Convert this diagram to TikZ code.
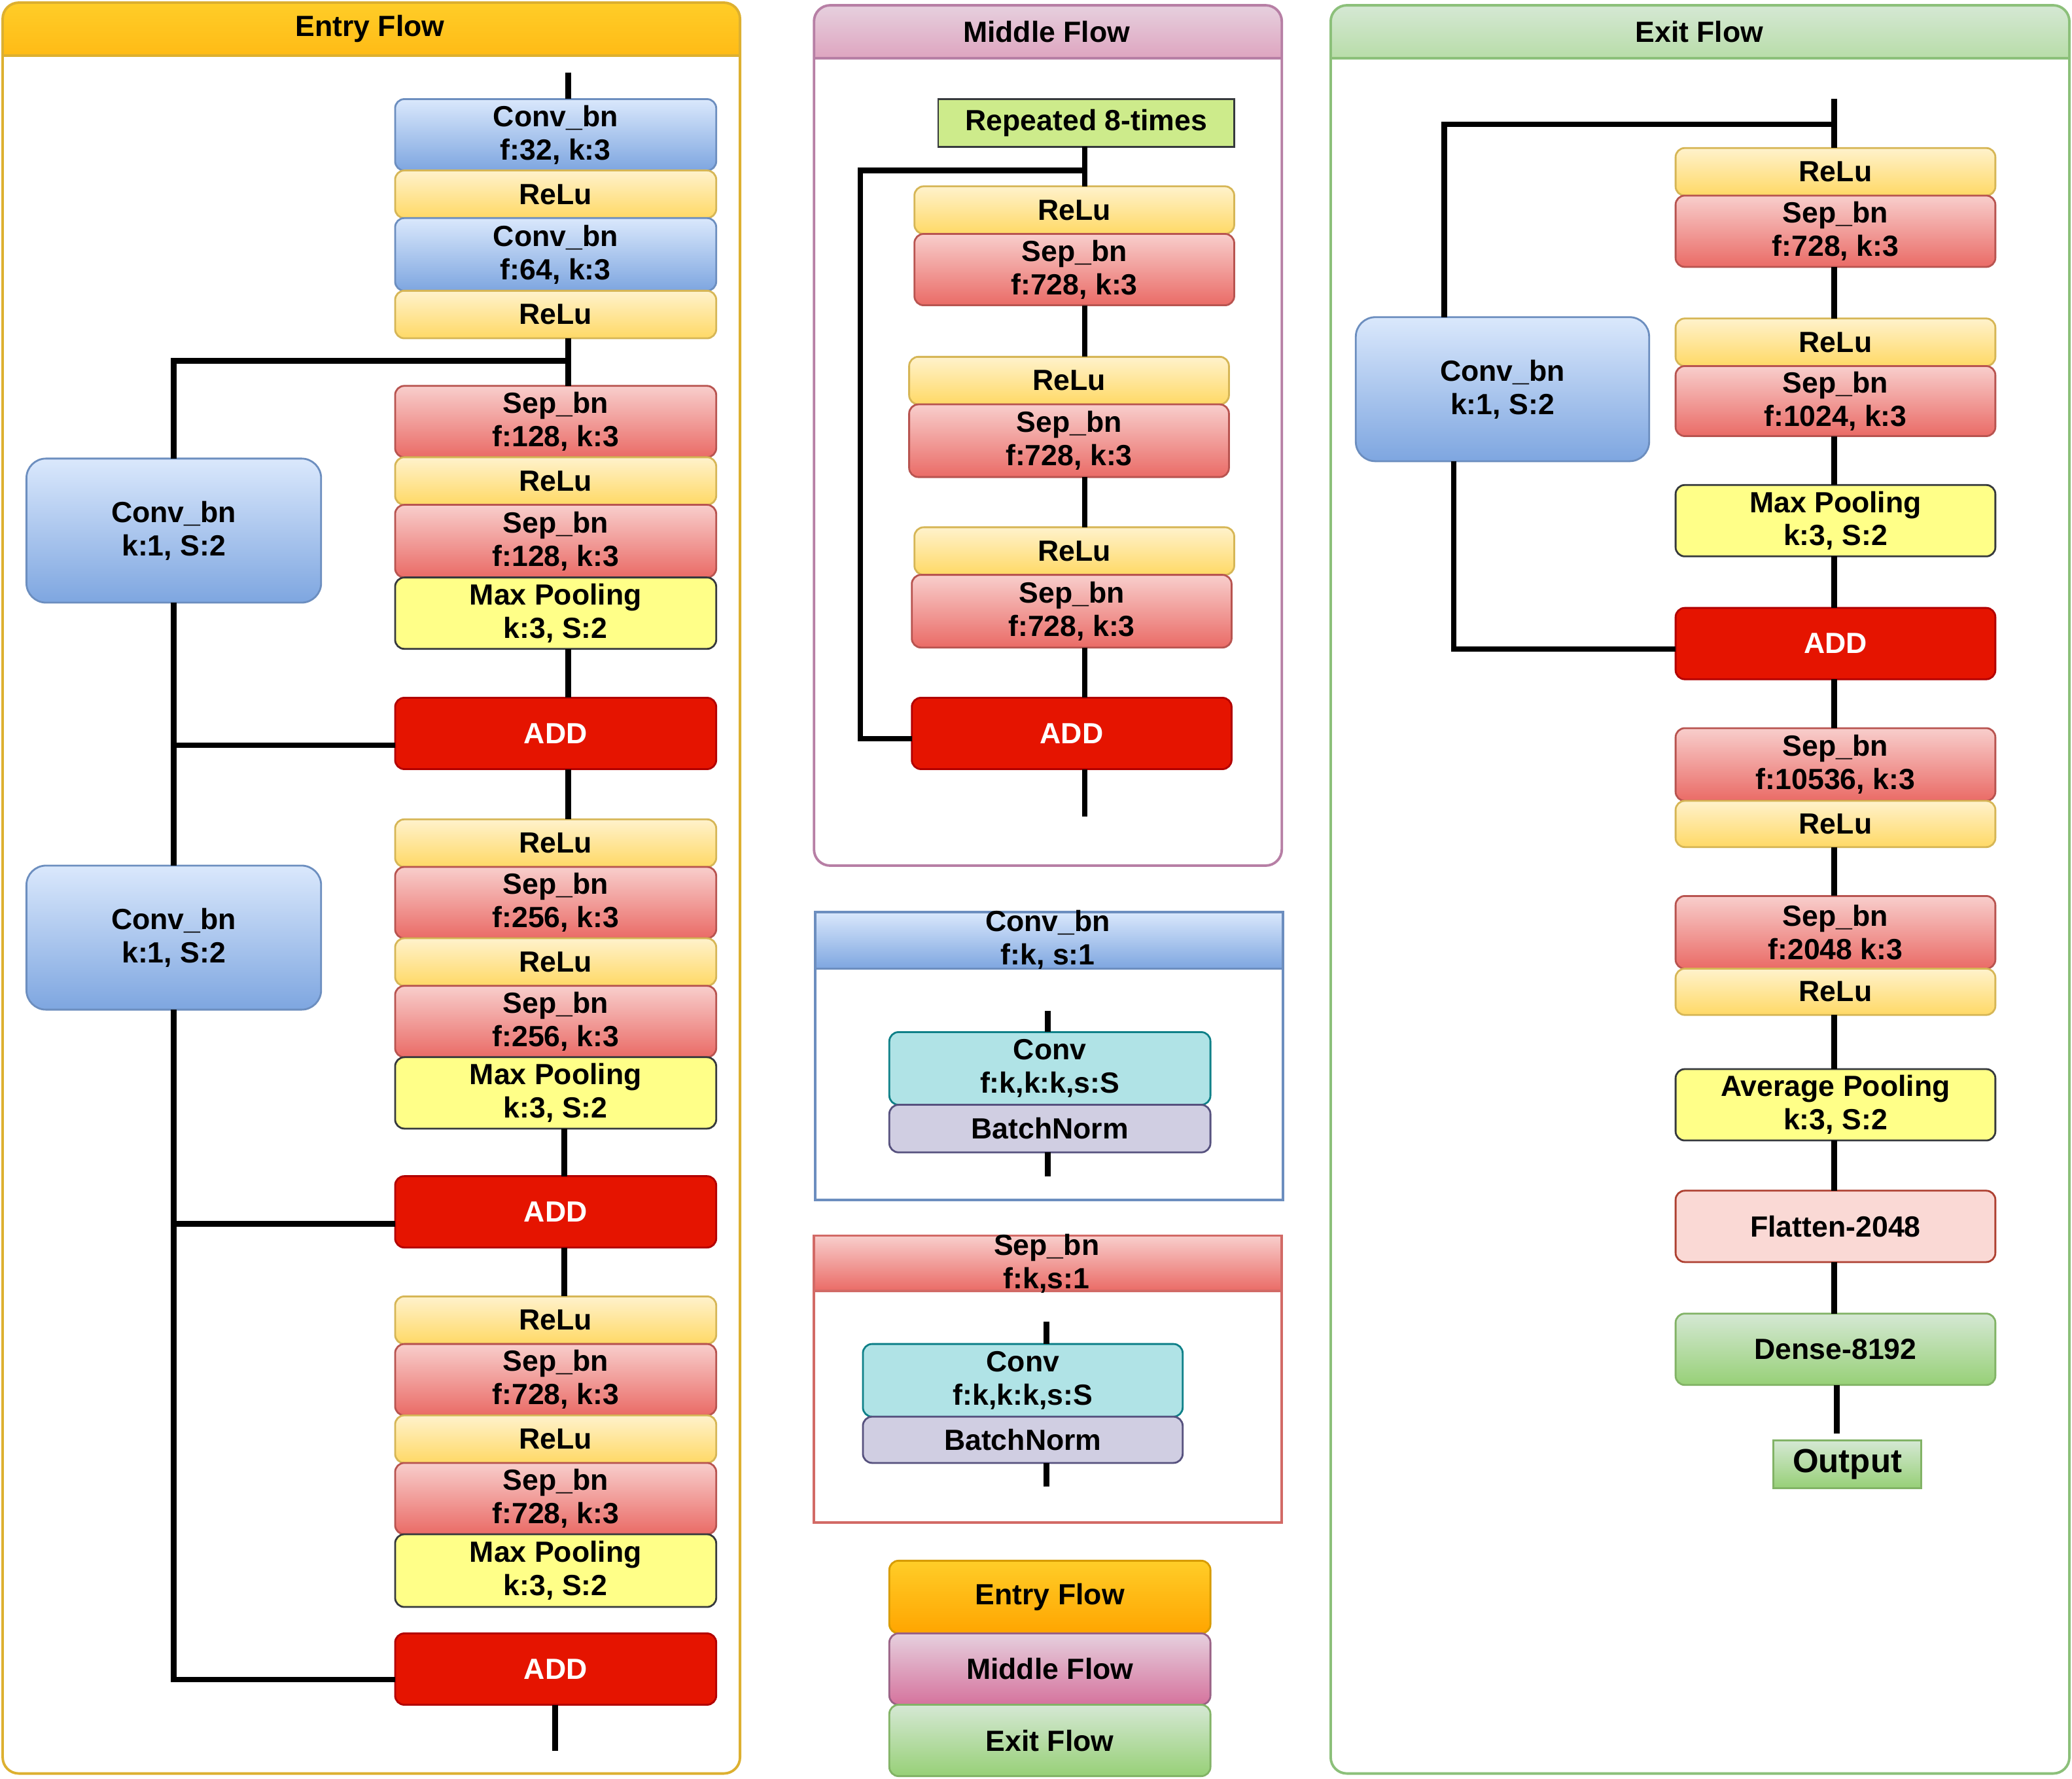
\documentclass[tikz,border=0pt]{standalone}
\usepackage{fontspec}
\setmainfont{Liberation Sans}
\usetikzlibrary{calc}
\definecolor{cBlueT}{HTML}{DAE8FC}\definecolor{cBlueB}{HTML}{7EA6E0}\definecolor{cBlueS}{HTML}{6C8EBF}
\definecolor{cYelT}{HTML}{FFF2CC}\definecolor{cYelB}{HTML}{FFD966}\definecolor{cYelS}{HTML}{D6B656}
\definecolor{cRedT}{HTML}{F8CECC}\definecolor{cRedB}{HTML}{EA6B66}\definecolor{cRedS}{HTML}{B85450}
\definecolor{cPool}{HTML}{FFFF88}\definecolor{cPoolS}{HTML}{36393D}
\definecolor{cAdd}{HTML}{E51400}\definecolor{cAddS}{HTML}{B20000}
\definecolor{cCyan}{HTML}{B0E3E6}\definecolor{cCyanS}{HTML}{0E8088}
\definecolor{cLav}{HTML}{D0CEE2}\definecolor{cLavS}{HTML}{56517E}
\definecolor{cFlat}{HTML}{FAD9D5}\definecolor{cFlatS}{HTML}{AE4132}
\definecolor{cRep}{HTML}{CDEB8B}
\definecolor{cGrT}{HTML}{D5E8D4}\definecolor{cGrB}{HTML}{97D077}\definecolor{cGrS}{HTML}{82B366}
\definecolor{cOrT}{HTML}{FFCD28}\definecolor{cOrB}{HTML}{FFA500}\definecolor{cOrS}{HTML}{D79B00}
\definecolor{cPkT}{HTML}{E6D0DE}\definecolor{cPkB}{HTML}{D5739D}\definecolor{cPkS}{HTML}{996185}
\definecolor{cEntryP}{HTML}{DDB030}\definecolor{cMidP}{HTML}{B77FA5}\definecolor{cExitP}{HTML}{8CC07A}
\definecolor{cSepP}{HTML}{D26A66}
\newcommand\fnt{\fontsize{12.7}{14.5}\selectfont\bfseries}
\newcommand\mybox[7]{\node[#2,minimum width={(#5-#3)*0.020198cm},minimum height={(#6-#4)*0.020198cm}] (#1) at ({(#3+#5)/2},{(#4+#6)/2}) {#7};}
\begin{document}
\begin{tikzpicture}[x=0.020198cm,y=-0.020198cm,
  base/.style={rectangle,rounded corners=4pt,inner sep=0pt,outer sep=0pt,align=center,font=\fnt,line width=0.8pt,text=black},
  convst/.style={base,draw=cBlueS,top color=cBlueT,bottom color=cBlueB},
  bigconv/.style={convst,rounded corners=8.5pt},
  relust/.style={base,draw=cYelS,top color=cYelT,bottom color=cYelB},
  sepst/.style={base,draw=cRedS,top color=cRedT,bottom color=cRedB},
  poolst/.style={base,draw=cPoolS,fill=cPool},
  addst/.style={base,draw=cAddS,fill=cAdd,text=white},
  cyanst/.style={base,draw=cCyanS,fill=cCyan},
  lavst/.style={base,draw=cLavS,fill=cLav},
  flatst/.style={base,draw=cFlatS,fill=cFlat},
  repst/.style={base,rounded corners=0pt,draw=cPoolS,fill=cRep},
  greenst/.style={base,draw=cGrS,top color=cGrT,bottom color=cGrB},
  outst/.style={greenst,rounded corners=0pt,font=\fontsize{14.5}{16}\selectfont\bfseries},
  orangest/.style={base,draw=cOrS,top color=cOrT,bottom color=cOrB},
  pinkst/.style={base,draw=cPkS,top color=cPkT,bottom color=cPkB},
  hdr/.style={inner sep=0pt,align=center,font=\fnt,text=black},
  conn/.style={line width=2.4pt,draw=black},
  panel/.style={line width=1.1pt,rounded corners=7pt}]
\useasboundingbox (0,0) rectangle (1568,1346);
\fill[white] (0,0) rectangle (1568,1346);

% ---------- panels ----------
\begin{scope}\clip (2,2) rectangle (560,42);
\shade[top color=cOrT,bottom color=cOrB,rounded corners=7pt] (2,2) rectangle (560,90);\end{scope}
\draw[panel,draw=cEntryP] (2,2) rectangle (560,1342);
\draw[line width=1.1pt,draw=cEntryP] (2,42) -- (560,42);
\node[hdr] (hEntry) at (280,22) {Entry Flow};

\begin{scope}\clip (616,4) rectangle (970,44);
\shade[top color=cPkT,bottom color=cPkB,rounded corners=7pt] (616,4) rectangle (970,90);\end{scope}
\draw[panel,draw=cMidP] (616,4) rectangle (970,655);
\draw[line width=1.1pt,draw=cMidP] (616,44) -- (970,44);
\node[hdr] (hMid) at (792,24) {Middle Flow};

\begin{scope}\clip (1007,4) rectangle (1566,44);
\shade[top color=cGrT,bottom color=cGrB,rounded corners=7pt] (1007,4) rectangle (1566,90);\end{scope}
\draw[panel,draw=cExitP] (1007,4) rectangle (1566,1342);
\draw[line width=1.1pt,draw=cExitP] (1007,44) -- (1566,44);
\node[hdr] (hExit) at (1286,24) {Exit Flow};

% legend panels
\shade[top color=cBlueT,bottom color=cBlueB] (617,690) rectangle (971,733);
\draw[line width=1.1pt,draw=cBlueS] (617,690) rectangle (971,908);
\draw[line width=1.1pt,draw=cBlueS] (617,733) -- (971,733);
\node[hdr] (hConv) at (793,711) {Conv\_bn\\f:k, s:1};

\shade[top color=cRedT,bottom color=cRedB] (616,935) rectangle (970,977);
\draw[line width=1.1pt,draw=cSepP] (616,935) rectangle (970,1152);
\draw[line width=1.1pt,draw=cSepP] (616,977) -- (970,977);
\node[hdr] (hSep) at (792,956) {Sep\_bn\\f:k,s:1};

% ---------- Entry flow ----------
\mybox{e1}{convst}{299}{75}{542}{129}{Conv\_bn\\f:32, k:3}
\mybox{e2}{relust}{299}{129}{542}{165}{ReLu}
\mybox{e3}{convst}{299}{165}{542}{220}{Conv\_bn\\f:64, k:3}
\mybox{e4}{relust}{299}{220}{542}{256}{ReLu}
\mybox{e5}{sepst}{299}{292}{542}{346}{Sep\_bn\\f:128, k:3}
\mybox{e6}{relust}{299}{346}{542}{382}{ReLu}
\mybox{e7}{sepst}{299}{382}{542}{437}{Sep\_bn\\f:128, k:3}
\mybox{e8}{poolst}{299}{437}{542}{491}{Max Pooling\\k:3, S:2}
\mybox{e9}{addst}{299}{528}{542}{582}{ADD}
\mybox{e10}{relust}{299}{620}{542}{656}{ReLu}
\mybox{e11}{sepst}{299}{656}{542}{710}{Sep\_bn\\f:256, k:3}
\mybox{e12}{relust}{299}{710}{542}{746}{ReLu}
\mybox{e13}{sepst}{299}{746}{542}{800}{Sep\_bn\\f:256, k:3}
\mybox{e14}{poolst}{299}{800}{542}{854}{Max Pooling\\k:3, S:2}
\mybox{e15}{addst}{299}{890}{542}{944}{ADD}
\mybox{e16}{relust}{299}{981}{542}{1017}{ReLu}
\mybox{e17}{sepst}{299}{1017}{542}{1071}{Sep\_bn\\f:728, k:3}
\mybox{e18}{relust}{299}{1071}{542}{1107}{ReLu}
\mybox{e19}{sepst}{299}{1107}{542}{1161}{Sep\_bn\\f:728, k:3}
\mybox{e20}{poolst}{299}{1161}{542}{1216}{Max Pooling\\k:3, S:2}
\mybox{e21}{addst}{299}{1236}{542}{1290}{ADD}
\mybox{ec1}{bigconv}{20}{347}{243}{456}{Conv\_bn\\k:1, S:2}
\mybox{ec2}{bigconv}{20}{655}{243}{764}{Conv\_bn\\k:1, S:2}

\coordinate (et) at (430,55);
\coordinate (ej) at (430,273);
\coordinate (xl) at (427,0);
\coordinate (eb) at (420,1325);
\draw[conn] (et) -- (et |- e1.north);
\draw[conn] (e4.south -| et) -- (e5.north -| et);
\draw[conn] (ec1.north) |- (ej);
\draw[conn] (e8.south -| et) -- (e9.north -| et);
\draw[conn] (e9.south -| et) -- (e10.north -| et);
\draw[conn] (e14.south -| xl) -- (e15.north -| xl);
\draw[conn] (e15.south -| xl) -- (e16.north -| xl);
\draw[conn] (e21.south -| eb) -- (eb);
\draw[conn] (ec1.south) -- (ec2.north);
\draw[conn] (ec1.south) |- ($(e9.west)+(0,9)$);
\draw[conn] (ec2.south) |- ($(e15.west)+(0,9)$);
\draw[conn] (ec2.south) |- ($(e21.west)+(0,8)$);

% ---------- Middle flow ----------
\mybox{m0}{repst}{710}{75}{934}{111}{Repeated 8-times}
\mybox{m1}{relust}{692}{141}{934}{177}{ReLu}
\mybox{m2}{sepst}{692}{177}{934}{231}{Sep\_bn\\f:728, k:3}
\mybox{m3}{relust}{688}{270}{930}{306}{ReLu}
\mybox{m4}{sepst}{688}{306}{930}{361}{Sep\_bn\\f:728, k:3}
\mybox{m5}{relust}{692}{399}{934}{435}{ReLu}
\mybox{m6}{sepst}{690}{435}{932}{490}{Sep\_bn\\f:728, k:3}
\mybox{m7}{addst}{690}{528}{932}{582}{ADD}
\coordinate (xm) at (821,0);
\coordinate (mj) at (821,129);
\coordinate (ml) at (651,559);
\coordinate (mb) at (821,618);
\draw[conn] (m0.south -| xm) -- (m1.north -| xm);
\draw[conn] (mj) -- (mj -| ml) -- (ml) -- (ml -| m7.west);
\draw[conn] (m2.south -| xm) -- (m3.north -| xm);
\draw[conn] (m4.south -| xm) -- (m5.north -| xm);
\draw[conn] (m6.south -| xm) -- (m7.north -| xm);
\draw[conn] (m7.south -| xm) -- (mb);

% ---------- Exit flow ----------
\mybox{x1}{relust}{1268}{112}{1510}{148}{ReLu}
\mybox{x2}{sepst}{1268}{148}{1510}{202}{Sep\_bn\\f:728, k:3}
\mybox{x3}{relust}{1268}{241}{1510}{277}{ReLu}
\mybox{x4}{sepst}{1268}{277}{1510}{330}{Sep\_bn\\f:1024, k:3}
\mybox{x5}{poolst}{1268}{367}{1510}{421}{Max Pooling\\k:3, S:2}
\mybox{x6}{addst}{1268}{460}{1510}{514}{ADD}
\mybox{x7}{sepst}{1268}{551}{1510}{606}{Sep\_bn\\f:10536, k:3}
\mybox{x8}{relust}{1268}{606}{1510}{641}{ReLu}
\mybox{x9}{sepst}{1268}{678}{1510}{733}{Sep\_bn\\f:2048 k:3}
\mybox{x10}{relust}{1268}{733}{1510}{768}{ReLu}
\mybox{x11}{poolst}{1268}{809}{1510}{863}{Average Pooling\\k:3, S:2}
\mybox{x12}{flatst}{1268}{901}{1510}{955}{Flatten-2048}
\mybox{x13}{greenst}{1268}{994}{1510}{1048}{Dense-8192}
\mybox{x14}{outst}{1342}{1090}{1454}{1126}{Output}
\mybox{xc}{bigconv}{1026}{240}{1248}{349}{Conv\_bn\\k:1, S:2}
\coordinate (xt) at (1388,75);
\coordinate (xj) at (1388,94);
\coordinate (xcl) at (1093,94);
\coordinate (xcb) at (1100,491);
\coordinate (xo) at (1390,1085);
\draw[conn] (xt) -- (xt |- x1.north);
\draw[conn] (xj) -- (xcl) -- (xcl |- xc.north);
\draw[conn] (xcb |- xc.south) -- (xcb) -- (xcb -| x6.west);
\draw[conn] (x2.south -| xt) -- (x3.north -| xt);
\draw[conn] (x4.south -| xt) -- (x5.north -| xt);
\draw[conn] (x5.south -| xt) -- (x6.north -| xt);
\draw[conn] (x6.south -| xt) -- (x7.north -| xt);
\draw[conn] (x8.south -| xt) -- (x9.north -| xt);
\draw[conn] (x10.south -| xt) -- (x11.north -| xt);
\draw[conn] (x11.south -| xt) -- (x12.north -| xt);
\draw[conn] (x12.south -| xt) -- (x13.north -| xt);
\draw[conn] (x13.south -| xo) -- (xo);

% ---------- legend: Conv_bn ----------
\mybox{lc1}{cyanst}{673}{781}{916}{836}{Conv\\f:k,k:k,s:S}
\mybox{lc2}{lavst}{673}{836}{916}{872}{BatchNorm}
\coordinate (lct) at (793,765);
\coordinate (lcb) at (793,890);
\draw[conn] (lct) -- (lct |- lc1.north);
\draw[conn] (lc2.south -| lcb) -- (lcb);

% ---------- legend: Sep_bn ----------
\mybox{ls1}{cyanst}{653}{1017}{895}{1072}{Conv\\f:k,k:k,s:S}
\mybox{ls2}{lavst}{653}{1072}{895}{1107}{BatchNorm}
\coordinate (lst) at (792,1000);
\coordinate (lsb) at (792,1125);
\draw[conn] (lst) -- (lst |- ls1.north);
\draw[conn] (ls2.south -| lsb) -- (lsb);

% ---------- colour legend ----------
\mybox{le1}{orangest}{673}{1181}{916}{1236}{Entry Flow}
\mybox{le2}{pinkst}{673}{1236}{916}{1290}{Middle Flow}
\mybox{le3}{greenst}{673}{1290}{916}{1344}{Exit Flow}
\end{tikzpicture}
\end{document}
